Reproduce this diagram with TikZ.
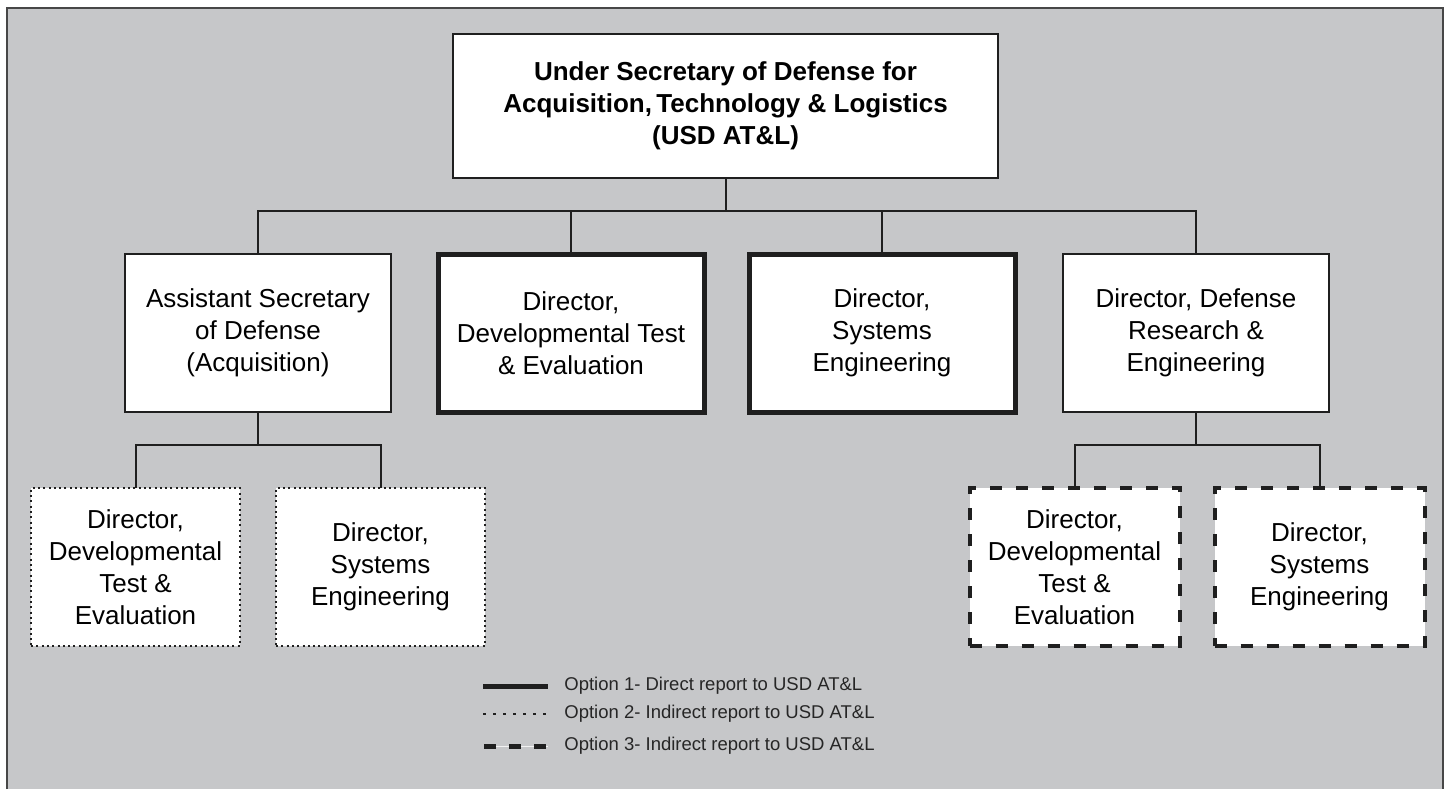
\documentclass[tikz,border=0pt]{standalone}
\usepackage{fontspec}
\setmainfont{Liberation Sans}
\begin{document}
\begin{tikzpicture}[x=0.5pt,y=-0.5pt,
  ink/.style={draw=black!88},
  boxbase/.style={ink, fill=white, rectangle, inner sep=0pt, outer sep=0pt, align=center,
     font=\fontsize{13}{16}\selectfont, minimum height=79pt},
  plainbox/.style={boxbase, line width=1pt, minimum width=133pt},
  thickbox/.style={boxbase, line width=2.5pt, minimum width=133pt},
  dotbox/.style={boxbase, line width=1pt, dash pattern=on 1pt off 1.65pt, minimum width=104.5pt},
  dashbox/.style={boxbase, line width=2pt, dash pattern=on 6pt off 7pt, minimum width=105pt},
  conn/.style={ink, line width=1pt},
  legtext/.style={anchor=west, inner sep=0pt, font=\fontsize{9.25}{11}\selectfont, text=black!85}
]
\useasboundingbox (0,0) rectangle (1449,789);
\fill[white] (0,0) rectangle (1449,789);
\fill[fill={rgb,255:red,198;green,199;blue,201}] (6.5,7.5) rectangle (1443,789);
\draw[draw=black!72, line width=1pt] (6.5,789) -- (6.5,7.5) -- (1443,7.5) -- (1443,789);

% top
\node[boxbase, line width=1pt, minimum width=272.5pt, minimum height=72pt,
  font=\fontsize{13}{16}\selectfont\bfseries] (usd) at (725.5,106)
  {Under Secretary of Defense for\\Acquisition,\,Technology \& Logistics\\(USD AT\&L)};

% second row
\node[plainbox] (asd) at (258,333) {Assistant Secretary\\of Defense\\(Acquisition)};
\node[thickbox] (dte) at (571,333) {Director,\\Developmental Test\\\& Evaluation};
\node[thickbox] (se) at (882,333) {Director,\\Systems\\Engineering};
\node[plainbox] (ddre) at (1196,333) {Director, Defense\\Research \&\\Engineering};

% third row
\node[dotbox] (dte2) at (135.5,567) {Director,\\Developmental\\Test \&\\Evaluation};
\node[dotbox] (se2) at (380.5,567) {Director,\\Systems\\Engineering};
\node[dashbox] (dte3) at (1074.5,567) {Director,\\Developmental\\Test \&\\Evaluation};
\node[dashbox] (se3) at (1319.5,567) {Director,\\Systems\\Engineering};

% connectors
\coordinate (bus1) at (725.5,211);
\draw[conn] (usd.south) -- (bus1);
\draw[conn] (asd.north) |- (bus1) -| (ddre.north);
\draw[conn] (dte.north) -- (dte.north |- bus1);
\draw[conn] (se.north) -- (se.north |- bus1);

\coordinate (bus2) at (258,445);
\draw[conn] (asd.south) -- (bus2);
\draw[conn] (dte2.north) |- (bus2) -| (se2.north);

\coordinate (bus3) at (1196,445);
\draw[conn] (ddre.south) -- (bus3);
\draw[conn] (dte3.north) |- (bus3) -| (se3.north);

% legend
\coordinate (l1a) at (483,686); \coordinate (l1b) at (548,686);
\coordinate (l2a) at (483,714); \coordinate (l2b) at (548,714);
\coordinate (l3a) at (484,746); \coordinate (l3b) at (548,746);
\draw[draw=black!88, line width=2.5pt] (l1a) -- (l1b);
\draw[draw=black!88, line width=1.25pt, dash pattern=on 1.25pt off 3.75pt] (l2a) -- (l2b);
\draw[draw=white!90!gray, line width=0.5pt] (l3a) -- (l3b);
\draw[draw=black!88, line width=2.5pt, dash pattern=on 6pt off 6.5pt] (l3a) -- (l3b);
\node[legtext] (t1) at (564,686) {Option 1- Direct report to USD AT\&L};
\node[legtext] (t2) at (564,714) {Option 2- Indirect report to USD AT\&L};
\node[legtext] (t3) at (564,746) {Option 3- Indirect report to USD AT\&L};
\end{tikzpicture}
\end{document}
